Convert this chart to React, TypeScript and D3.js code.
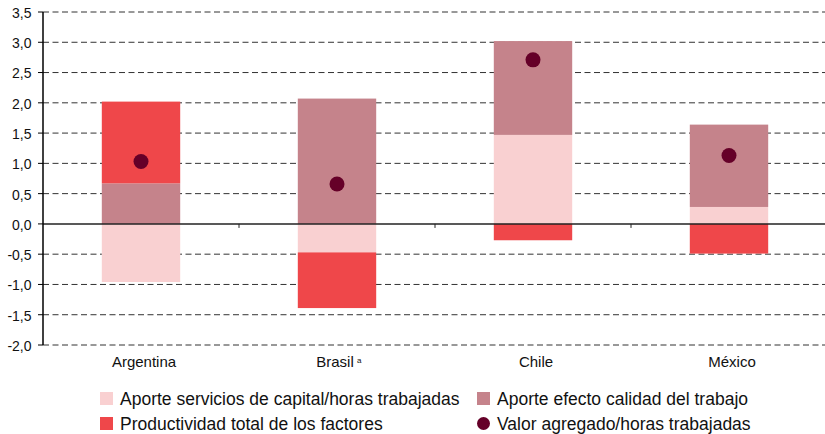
import React from "react";
import * as d3 from "d3";

const categories = ["Argentina", "Brasil", "Chile", "México"];
const capital = [-0.96, -0.47, 1.47, 0.28];
const calidad = [0.67, 2.07, 1.55, 1.36];
const ptf = [1.35, -0.92, -0.27, -0.49];
const valor = [1.03, 0.66, 2.71, 1.13];
const yTicks = [-2, -1.5, -1, -0.5, 0, 0.5, 1, 1.5, 2, 2.5, 3, 3.5];
const seriesNames = [
  "Aporte servicios de capital/horas trabajadas",
  "Aporte efecto calidad del trabajo",
  "Productividad total de los factores",
  "Valor agregado/horas trabajadas",
];

const colors = ["#F9D0D1", "#C5838B", "#EF474A", "#650028"];

export default function App() {
  const W = 825, H = 434;
  const left = 43, right = 827, top = 12, bottom = 345;
  const x = d3.scaleBand().domain(categories).range([left, right]).paddingInner(0.6).paddingOuter(0.3);
  const xb = d3.scaleBand().domain(categories).range([left, right]);
  const y = d3.scaleLinear().domain([-2, 3.5]).range([bottom, top]);
  const rows = categories.map((c, i) => ({ cat: c, capital: capital[i], calidad: calidad[i], ptf: ptf[i] }));
  const stack = d3.stack<any>().keys(["capital", "calidad", "ptf"]).offset(d3.stackOffsetDiverging);
  const series = stack(rows);
  const fmt = (v: number) => v.toFixed(1).replace(".", ",");
  const font = "'Liberation Sans', Arial, sans-serif";
  const legend = [
    { x: 100, y: 405, i: 0 },
    { x: 477, y: 405, i: 1 },
    { x: 100, y: 430, i: 2 },
    { x: 477, y: 430, i: 3 },
  ];
  const labelShift = [3, -2, 3, 3];
  return (
    <svg width={W} height={H} style={{ position: "absolute", left: 0, top: 0 }} fontFamily={font}>
      {yTicks.filter((t) => t !== 0).map((t) => (
        <line key={t} x1={left} x2={825} y1={y(t)} y2={y(t)} stroke="#333" strokeWidth={1} strokeDasharray="6,3.5" />
      ))}
      {series.map((s, si) =>
        s.map((d, i) => (
          <rect key={si + "-" + i} x={x(categories[i])!} width={x.bandwidth()} y={y(Math.max(d[0], d[1]))}
            height={Math.abs(y(d[0]) - y(d[1]))} fill={colors[si]} />
        ))
      )}
      <line x1={left} x2={825} y1={y(0)} y2={y(0)} stroke="#222" strokeWidth={1.5} />
      {categories.slice(1).map((c) => (
        <line key={c} x1={xb(c)!} x2={xb(c)!} y1={y(0)} y2={y(0) + 4} stroke="#222" strokeWidth={1} />
      ))}
      {valor.map((v, i) => (
        <circle key={i} cx={x(categories[i])! + x.bandwidth() / 2} cy={y(v)} r={7.5} fill={colors[3]} />
      ))}
      <line x1={left} x2={left} y1={top} y2={bottom} stroke="#000" strokeWidth={1.5} />
      {yTicks.map((t) => (
        <g key={t}>
          <line x1={left - 5} x2={left} y1={y(t)} y2={y(t)} stroke="#000" strokeWidth={1} />
          <text x={31.5} y={y(t)} dy="0.42em" textAnchor="end" fontSize={14} fill="#111">{fmt(t)}</text>
        </g>
      ))}
      {categories.map((c, i) => (
        <text key={c} x={xb(c)! + xb.bandwidth() / 2 + labelShift[i]} y={367} textAnchor="middle" fontSize={15}
          fill="#111">{c}</text>
      ))}
      <text x={xb("Brasil")! + xb.bandwidth() / 2 + 20} y={363} fontSize={8} fill="#111">a</text>
      {legend.map((l) => (
        <g key={l.i}>
          {l.i < 3 ? (
            <rect x={l.x} y={l.y - 13} width={13} height={13} fill={colors[l.i]} />
          ) : (
            <circle cx={l.x + 6.5} cy={l.y - 6.5} r={6.5} fill={colors[3]} />
          )}
          <text x={l.x + 20} y={l.y} fontSize={17.5} fill="#111">{seriesNames[l.i]}</text>
        </g>
      ))}
    </svg>
  );
}
